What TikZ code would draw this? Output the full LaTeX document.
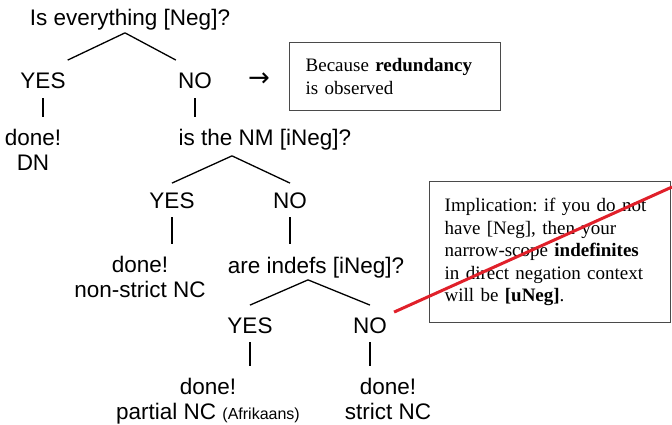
\documentclass[tikz,border=0pt]{standalone}
\usepackage{fontspec}
\setmainfont{Liberation Serif}
\setsansfont{Liberation Sans}
\newfontfamily\arrowfont{DejaVu Sans}
\frenchspacing
\begin{document}
\begin{tikzpicture}[x=1pt,y=-1pt,
  word/.style={font=\sffamily\fontsize{22.5}{25}\selectfont,inner sep=2pt},
  leaf/.style={word,align=center,anchor=north},
  branch/.style={line width=1.3pt},
  stem/.style={branch,shorten <=7pt,shorten >=10pt},
  note/.style={draw=boxgray,line width=1.4pt,anchor=north west,align=left,inner xsep=15pt,
    font=\rmfamily\fontsize{19}{22.5}\selectfont,text=black}]
\definecolor{boxgray}{HTML}{4A4A4A}
\definecolor{strike}{HTML}{E0202A}
\useasboundingbox (0,0) rectangle (672,425);
\node [word,anchor=base] (q1) at (130,26) {Is everything [Neg]?};
\node [word,anchor=base] (yes1) at (43,89) {YES};
\node [word,anchor=base] (no1) at (195,89) {NO};
\node [font=\arrowfont\fontsize{26}{26}\selectfont] (arrow) at (259,80) {→};
\node [leaf] (done1) at (33,127) {done!\\DN};
\node [word,anchor=base] (q2) at (265,146) {is the NM [iNeg]?};
\node [word,anchor=base] (yes2) at (172,208) {YES};
\node [word,anchor=base] (no2) at (290,208) {NO};
\node [leaf] (done2) at (140,254) {done!\\non-strict NC};
\node [word,anchor=base] (q3) at (316,273) {are indefs [iNeg]?};
\node [word,anchor=base] (yes3) at (250,333) {YES};
\node [word,anchor=base] (no3) at (370,333) {NO};
\node [leaf] (done3) at (208,376) {done!\\partial NC {\fontsize{16}{25}\selectfont(Afrikaans)}};
\node [leaf] (done4) at (388,376) {done!\\strict NC};
\node [note,text width=179pt,minimum width=211pt,minimum height=68pt,inner xsep=16pt] (because) at (289,42)
  {Because \textbf{redundancy}\\is observed};
\node [note,text width=211pt,minimum width=241pt,minimum height=141pt] (implication) at (429,181)
  {Implication: if you do not\\have [Neg], then your\\narrow-scope \textbf{indefinites}\\in direct negation context\\will be \textbf{[uNeg]}.};
\draw [branch] ([xshift=-5pt]q1.south) -- ([yshift=11pt]yes1.north east);
\draw [branch] ([xshift=-5pt]q1.south) -- ([yshift=11pt]no1.north west);
\draw [branch] ([xshift=-33pt,yshift=-3pt]q2.south) -- ([yshift=7pt]yes2.north);
\draw [branch] ([xshift=-33pt,yshift=-3pt]q2.south) -- ([yshift=7pt]no2.north);
\draw [branch] ([xshift=-8pt]q3.south) -- ([yshift=10pt]yes3.north);
\draw [branch] ([xshift=-8pt]q3.south) -- ([yshift=10pt]no3.north);
\foreach \from/\to in {yes1/done1,no1/q2,yes2/done2,no2/q3,yes3/done3,no3/done4}
  \draw [stem] (\from.south) -- (\from.south |- \to.north);
\coordinate (strikeend) at (672,187);
\draw [strike,line width=3pt] ([xshift=5pt,yshift=3pt]no3.north east) -- (strikeend);
\end{tikzpicture}
\end{document}
